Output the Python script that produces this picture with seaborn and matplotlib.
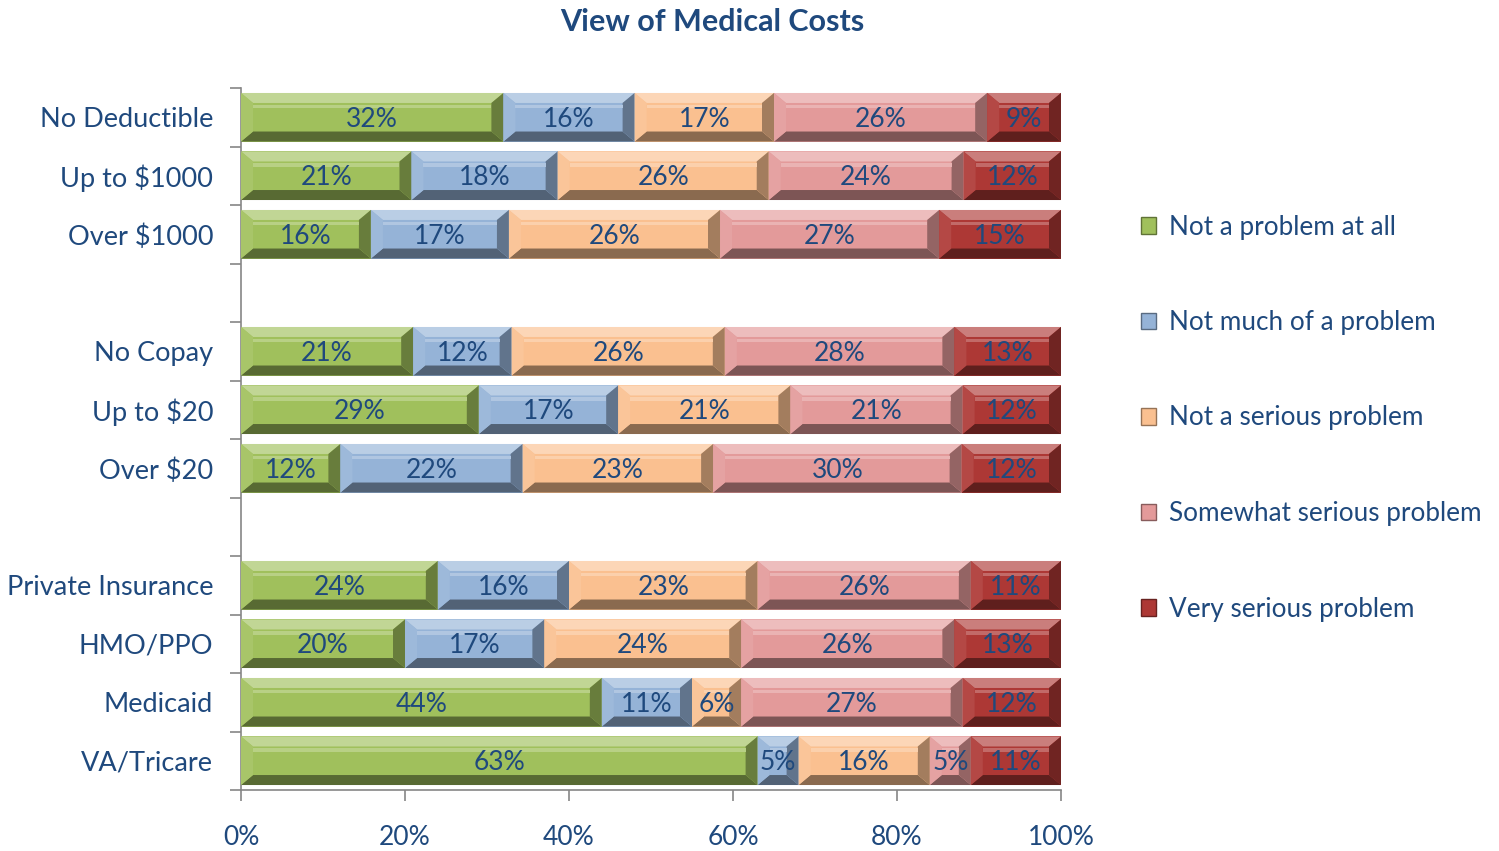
import numpy as np
import pandas as pd
import matplotlib

matplotlib.use("Agg")
import matplotlib.pyplot as plt
import matplotlib.colors as mcolors
from matplotlib.patches import Polygon, Patch
import seaborn as sns

# categories, top to bottom (blank strings are the gaps between groups)
groups = ["No Deductible", "Up to $1000", "Over $1000", " ",
          "No Copay", "Up to $20", "Over $20", "  ",
          "Private Insurance", "HMO/PPO", "Medicaid", "VA/Tricare"]
series = ["Not a problem at all", "Not much of a problem", "Not a serious problem",
          "Somewhat serious problem", "Very serious problem"]
colors = ["#A0C05C", "#95B3D7", "#FAC090", "#E39A9A", "#AD3835"]

rows = ["No Deductible", "Up to $1000", "Over $1000",
        "No Copay", "Up to $20", "Over $20",
        "Private Insurance", "HMO/PPO", "Medicaid", "VA/Tricare"]
not_at_all = [32, 21, 16, 21, 29, 12, 24, 20, 44, 63]
not_much = [16, 18, 17, 12, 17, 22, 16, 17, 11, 5]
not_serious = [17, 26, 26, 26, 21, 23, 23, 24, 6, 16]
somewhat = [26, 24, 27, 28, 21, 30, 26, 26, 27, 5]
very = [9, 12, 15, 13, 12, 12, 11, 13, 12, 11]

text_col = "#1F497D"
grey = "#868686"

sns.set_style("white")
plt.rcParams["font.family"] = ["Lato", "DejaVu Sans"]

df = pd.DataFrame({"group": rows})
for name, vals in zip(series, [not_at_all, not_much, not_serious, somewhat, very]):
    df[name] = vals
total = df[series].sum(axis=1)
pct = df[series].div(total, axis=0) * 100  # 100% stacked
lefts = pct.cumsum(axis=1) - pct

fig = plt.figure(figsize=(14.99, 8.51), dpi=100)
ax = fig.add_axes([241 / 1499, 1 - 790 / 851, 820 / 1499, 702 / 851])

row_idx = {g: i for i, g in enumerate(rows)}
segs = []
for s, c in zip(series, colors):
    n0 = len(ax.patches)
    sns.barplot(x=pct[s], y=df["group"], order=groups, color=c, width=0.83,
                saturation=1, ax=ax, edgecolor="none", linewidth=0)
    for p in ax.patches[n0:]:
        k = int(round(p.get_y() + p.get_height() / 2))
        r = row_idx[groups[k]]
        p.set_x(lefts.loc[r, s])
        segs.append((p, c, df.loc[r, s]))

ax.set_xlim(0, 100)
ax.set_ylim(11.5, -0.5)

# bevel decoration derived from each bar's own geometry
px_x = 820 / 100.0
px_y = 702 / 12.0
for p, c, v in segs:
    x0, y0 = p.get_x(), p.get_y()
    w, h = p.get_width(), p.get_height()
    x1, y1 = x0 + w, y0 + h
    bx = min(12 / px_x, w / 2 * 0.9)
    by = 10 / px_y
    rgb = np.array(mcolors.to_rgb(c))
    light = rgb + (1 - rgb) * 0.35
    mid = rgb + (1 - rgb) * 0.08
    dark = rgb * 0.55
    dark2 = rgb * 0.65
    # y axis is inverted: y0 is the top edge
    top = [(x0, y0), (x1, y0), (x1 - bx, y0 + by), (x0 + bx, y0 + by)]
    bot = [(x0, y1), (x1, y1), (x1 - bx, y1 - by), (x0 + bx, y1 - by)]
    lft = [(x0, y0), (x0 + bx, y0 + by), (x0 + bx, y1 - by), (x0, y1)]
    rgt = [(x1, y0), (x1 - bx, y0 + by), (x1 - bx, y1 - by), (x1, y1)]
    for poly, col in [(top, light), (bot, dark), (lft, mid), (rgt, dark2)]:
        ax.add_patch(Polygon(poly, closed=True, facecolor=col, edgecolor="none", zorder=3))
    # soft highlight band on the face
    ax.add_patch(Polygon([(x0 + bx, y0 + by + 0.03), (x1 - bx, y0 + by + 0.03),
                          (x1 - bx, y0 + by + 0.09), (x0 + bx, y0 + by + 0.09)],
                         closed=True, facecolor=rgb + (1 - rgb) * 0.25,
                         edgecolor="none", zorder=3))
    ax.text(x0 + w / 2, y0 + h / 2 + 0.03, f"{v}%", ha="center", va="center",
            fontsize=19, color=text_col, zorder=4)

# axes styling
for side in ["top", "right"]:
    ax.spines[side].set_visible(False)
for side in ["left", "bottom"]:
    ax.spines[side].set_color(grey)
    ax.spines[side].set_linewidth(1.2)

ax.set_xticks(np.arange(0, 101, 20))
ax.set_xticklabels([f"{t}%" for t in range(0, 101, 20)])
ax.tick_params(axis="x", length=8, width=1.2, color=grey, direction="out",
               pad=17, labelsize=19, labelcolor=text_col, bottom=True)
ax.set_yticks(range(len(groups)))
ax.set_yticklabels(groups)
ax.set_yticks(np.arange(-0.5, len(groups), 1), minor=True)
ax.tick_params(axis="y", which="major", length=0, pad=20, labelsize=19.5,
               labelcolor=text_col)
ax.tick_params(axis="y", which="minor", length=8, width=1.2, color=grey,
               direction="out", left=True)
ax.set_xlabel("")
ax.set_ylabel("")

fig.text(712 / 1499, 1 - 22 / 851, "View of Medical Costs", ha="center", va="center",
         fontsize=22, fontweight="bold", color=text_col)

handles = [Patch(facecolor=c, edgecolor=mcolors.to_hex(np.array(mcolors.to_rgb(c)) * 0.6))
           for c in colors]
fig.legend(handles, series, loc="center left", bbox_to_anchor=(1117 / 1499, 1 - 418 / 851),
           frameon=False, fontsize=18.8, labelcolor=text_col, handlelength=0.6,
           handleheight=0.6, handletextpad=0.5, labelspacing=2.7)

fig.savefig("out.png", dpi=100)
